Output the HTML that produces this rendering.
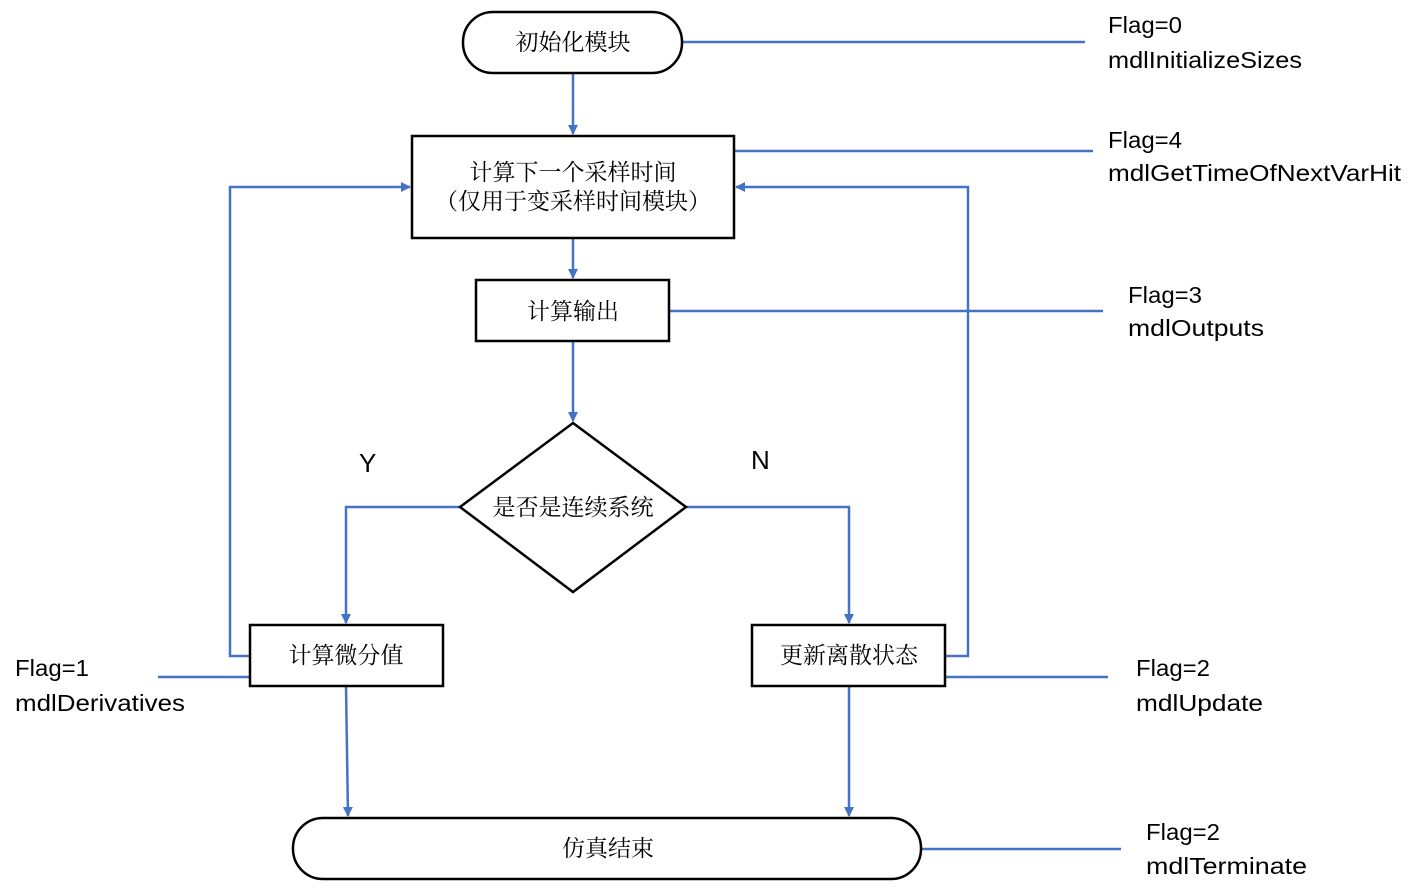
<!DOCTYPE html>
<html><head><meta charset="utf-8"><style>body{margin:0;background:#fff}svg{display:block}</style></head>
<body>
<svg width="1416" height="896" viewBox="0 0 1416 896" xmlns="http://www.w3.org/2000/svg">
<defs>
<marker id="a" markerWidth="10" markerHeight="10" refX="9" refY="5" orient="auto" markerUnits="userSpaceOnUse">
<path d="M0,0 L10,5 L0,10 Z" fill="#4472C4"/>
</marker>
</defs>
<g fill="none" stroke="#4472C4" stroke-width="2.5">
<line x1="682" y1="42" x2="1085" y2="42"/>
<line x1="573" y1="73" x2="573" y2="134" marker-end="url(#a)"/>
<line x1="734" y1="151" x2="1093" y2="151"/>
<line x1="573" y1="238" x2="573" y2="278" marker-end="url(#a)"/>
<line x1="669" y1="311" x2="1103" y2="311"/>
<line x1="573" y1="341" x2="573" y2="421" marker-end="url(#a)"/>
<polyline points="460,507 346,507 346,623" marker-end="url(#a)"/>
<polyline points="686,507 849,507 849,623" marker-end="url(#a)"/>
<polyline points="250,656 230,656 230,187 410,187" marker-end="url(#a)"/>
<polyline points="945,656 968,656 968,187 736,187" marker-end="url(#a)"/>
<line x1="158" y1="677" x2="250" y2="677"/>
<line x1="945" y1="677" x2="1108" y2="677"/>
<line x1="346" y1="686" x2="348" y2="816" marker-end="url(#a)"/>
<line x1="849" y1="686" x2="849" y2="816" marker-end="url(#a)"/>
<line x1="921" y1="849" x2="1121" y2="849"/>
</g>
<g fill="#fff" stroke="#000" stroke-width="2.5">
<rect x="463" y="12" width="219" height="61" rx="30"/>
<rect x="412" y="136" width="322" height="102"/>
<rect x="476" y="280" width="193" height="61"/>
<polygon points="573,423 686,507 573,592 460,507"/>
<rect x="250" y="625" width="193" height="61"/>
<rect x="752" y="625" width="193" height="61"/>
<rect x="293" y="818" width="628" height="61" rx="30"/>
</g>
<g font-family="'Liberation Serif','Noto Serif CJK SC',serif" font-size="23" text-anchor="middle" fill="#000">
<text x="573" y="50">初始化模块</text>
<text x="573" y="180">计算下一个采样时间</text>
<text x="573" y="209">（仅用于变采样时间模块）</text>
<text x="573" y="319">计算输出</text>
<text x="573" y="515">是否是连续系统</text>
<text x="346" y="663">计算微分值</text>
<text x="849" y="663">更新离散状态</text>
<text x="608" y="856">仿真结束</text>
</g>
<g font-family="'Liberation Sans',sans-serif" font-size="23" fill="#000">
<text x="1108" y="33" textLength="74" lengthAdjust="spacingAndGlyphs">Flag=0</text>
<text x="1108" y="68" textLength="194" lengthAdjust="spacingAndGlyphs">mdlInitializeSizes</text>
<text x="1108" y="148" textLength="74" lengthAdjust="spacingAndGlyphs">Flag=4</text>
<text x="1108" y="181" textLength="293" lengthAdjust="spacingAndGlyphs">mdlGetTimeOfNextVarHit</text>
<text x="1128" y="303" textLength="74" lengthAdjust="spacingAndGlyphs">Flag=3</text>
<text x="1128" y="336" textLength="136" lengthAdjust="spacingAndGlyphs">mdlOutputs</text>
<text x="15" y="676" textLength="74" lengthAdjust="spacingAndGlyphs">Flag=1</text>
<text x="15" y="711" textLength="170" lengthAdjust="spacingAndGlyphs">mdlDerivatives</text>
<text x="1136" y="676" textLength="74" lengthAdjust="spacingAndGlyphs">Flag=2</text>
<text x="1136" y="711" textLength="127" lengthAdjust="spacingAndGlyphs">mdlUpdate</text>
<text x="1146" y="840" textLength="74" lengthAdjust="spacingAndGlyphs">Flag=2</text>
<text x="1146" y="874" textLength="161" lengthAdjust="spacingAndGlyphs">mdlTerminate</text>
<text x="359" y="472" font-size="26">Y</text>
<text x="751" y="469" font-size="26">N</text>
</g>
</svg>
</body></html>
